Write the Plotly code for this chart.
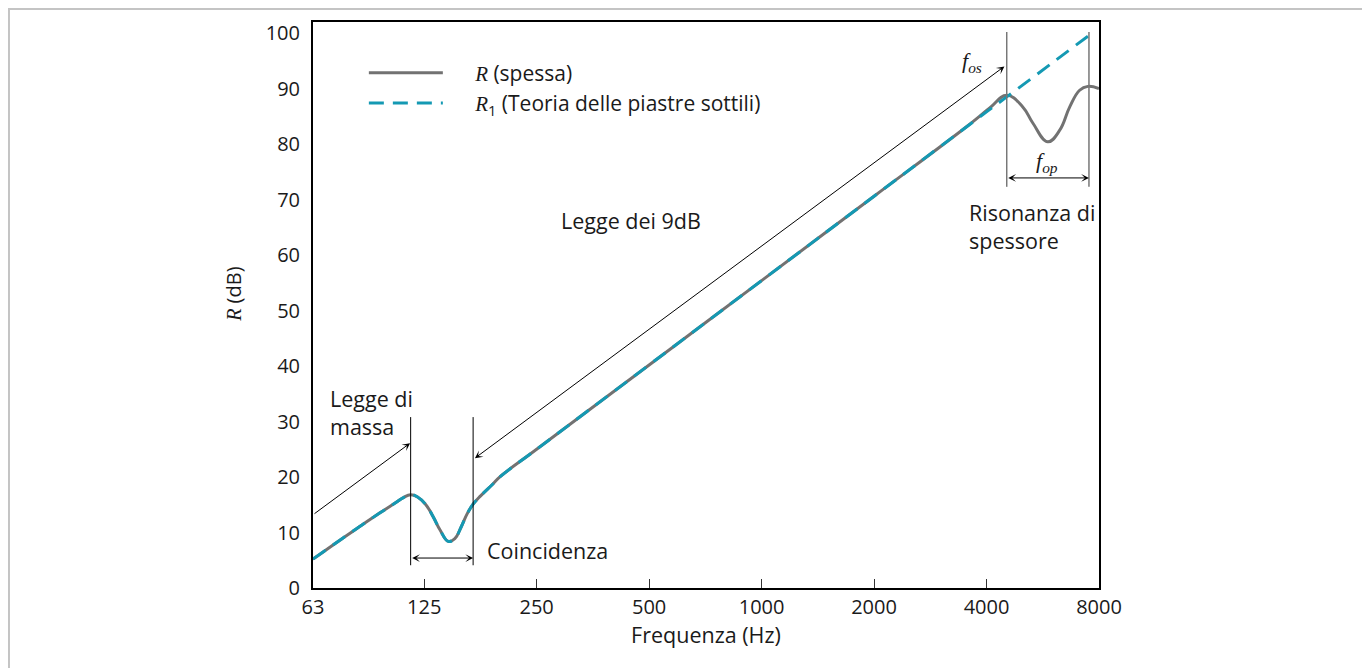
import numpy as np
import plotly.graph_objects as go

# ---------------- data ----------------
freq_thin = [63, 75, 85, 95, 105, 110, 115, 120, 126, 132, 138, 145, 151, 157, 163, 169, 177, 190, 200,
             250, 500, 1000, 2000, 4000, 4530, 7560]
R_thin = [5.2, 8.8, 11.3, 13.5, 15.4, 16.3, 16.8, 16.4, 15.1, 12.9, 10.4, 8.4, 8.9, 11.0, 13.4, 15.1, 16.6,
          18.6, 20.1, 25.0, 40.2, 55.4, 70.6, 85.8, 88.5, 99.7]

freq_thick = [63, 75, 85, 95, 105, 110, 115, 120, 126, 132, 138, 145, 151, 157, 163, 169, 177, 190, 200,
              250, 500, 1000, 2000, 3500, 4080, 4530, 5000, 5320, 5835, 6280, 6680, 7100, 7470, 8000]
R_thick = [5.2, 8.8, 11.3, 13.5, 15.4, 16.3, 16.8, 16.4, 15.1, 12.9, 10.4, 8.4, 8.9, 11.0, 13.4, 15.1, 16.6,
           18.6, 20.1, 25.0, 40.2, 55.4, 70.6, 82.9, 86.5, 88.8, 86.7, 83.8, 80.4, 82.5, 86.7, 89.7, 90.4, 90.0]

x_tickvals = [63, 125, 250, 500, 1000, 2000, 4000, 8000]
x_ticktext = ["63", "125", "250", "500", "1000", "2000", "4000", "8000"]
y_tickvals = list(range(0, 101, 10))

# annotation reference frequencies / levels
f_mass = 115      # mass-law limit
f_coinc = 169     # end of coincidence dip
f_os = 4530       # thickness resonance start
f_op = 7520       # thickness resonance end

GREY = "#727272"
TEAL = "#1499b3"
FONT = "Open Sans"
SERIF = "Liberation Serif"
NB = "\u00a0" * 5

fig = go.Figure()
fig.add_trace(go.Scatter(
    x=freq_thick, y=R_thick, mode="lines", line=dict(color=GREY, width=3, shape="spline", smoothing=1.2),
    name=f"{NB}<span style='font-family:{SERIF}'><i>R</i></span> (spessa)", hoverinfo="skip"))
fig.add_trace(go.Scatter(
    x=freq_thin, y=R_thin, mode="lines",
    line=dict(color=TEAL, width=3, dash="15px,9px", shape="spline", smoothing=1.2),
    name=f"{NB}<span style='font-family:{SERIF}'><i>R</i></span><sub>1</sub> (Teoria delle piastre sottili)",
    hoverinfo="skip"))

L = np.log10
shapes = []
# vertical limit lines (data coordinates)
for f in [f_mass, f_coinc]:
    shapes.append(dict(type="line", xref="x", yref="y", x0=f, x1=f, y0=4.1, y1=30.8,
                       line=dict(color="black", width=1)))
for f in [f_os, f_op]:
    shapes.append(dict(type="line", xref="x", yref="y", x0=f, x1=f, y0=72.3, y1=100.2,
                       line=dict(color="#777777", width=1.5)))
# outer frame
shapes.append(dict(type="rect", xref="paper", yref="paper", x0=-0.3868, x1=1.3397, y0=-0.2, y1=1.0230,
                   line=dict(color="#c4c4c4", width=2), fillcolor="rgba(0,0,0,0)", layer="below"))

ann = []
def arrow(x_head, y_head, x_tail, y_tail, both=False):
    d = dict(x=L(x_head), y=y_head, ax=L(x_tail), ay=y_tail, xref="x", yref="y", axref="x", ayref="y",
             text="", showarrow=True, arrowhead=3, arrowsize=1.3, arrowwidth=1, arrowcolor="black",
             standoff=0, startstandoff=0)
    if both:
        d.update(arrowside="end+start", startarrowhead=3, startarrowsize=1.3)
    ann.append(d)

arrow(114.6, 26.1, 63, 13.2)                    # mass law arrow
arrow(170.9, 23.4, f_os * 0.995, 94.2, True)    # 9 dB law arrow (double)
arrow(f_coinc, 5.4, f_mass, 5.4, True)          # coincidence width
arrow(f_op, 73.9, f_os, 73.9, True)             # f_op width

def label(text, f, y, xanchor="left", size=21.5, align="left"):
    ann.append(dict(x=L(f), y=y, xref="x", yref="y", text=text, showarrow=False,
                    xanchor=xanchor, yanchor="middle", align=align,
                    font=dict(family=FONT, size=size, color="#1a1a1a")))

label("Legge di<br>massa", 69.1, 31.7)
label("Coincidenza", 181.9, 6.7)
label("Legge dei 9dB", 286.8, 66.3)
label("Risonanza di<br>spessore", 3543, 65.2)
label(f"<span style='font-family:{SERIF}'><i>f</i><sub><i>os</i></sub></span>", 3655, 94.8, xanchor="center", size=22)
label(f"<span style='font-family:{SERIF}'><i>f</i><sub><i>op</i></sub></span>", 5797, 76.8, xanchor="center", size=22)

# y axis title as rotated annotation
ann.append(dict(xref="paper", yref="paper", x=-0.1005, y=0.518, showarrow=False, textangle=-90,
                text=f"<span style='font-family:{SERIF}'><i>R</i></span> (dB)",
                font=dict(family=FONT, size=20, color="#1a1a1a"), xanchor="center", yanchor="middle"))

fig.update_layout(
    width=1362, height=660,
    margin=dict(l=305, r=271, t=14, b=80),
    paper_bgcolor="white", plot_bgcolor="white",
    font=dict(family=FONT, size=20, color="#1a1a1a"),
    showlegend=True,
    legend=dict(x=0.0647, y=0.946, xanchor="left", yanchor="top", bgcolor="rgba(0,0,0,0)",
                itemwidth=74, font=dict(family=FONT, size=21), tracegroupgap=0),
    shapes=shapes, annotations=ann,
    xaxis=dict(type="log", range=[L(63), L(8000)], tickvals=x_tickvals, ticktext=x_ticktext,
               ticks="inside", ticklen=9, tickwidth=1, tickcolor="#333",
               showline=True, linecolor="black", linewidth=2, mirror=True, showgrid=False, zeroline=False,
               title=dict(text="Frequenza (Hz)", standoff=5, font=dict(size=21.5)), ticklabelstandoff=0),
    yaxis=dict(range=[0, 102], tickvals=y_tickvals, ticks="", showline=True, linecolor="black",
               linewidth=2, mirror=True, showgrid=False, zeroline=False,
               ticklabelstandoff=7),
)

fig.write_html("out.html")
